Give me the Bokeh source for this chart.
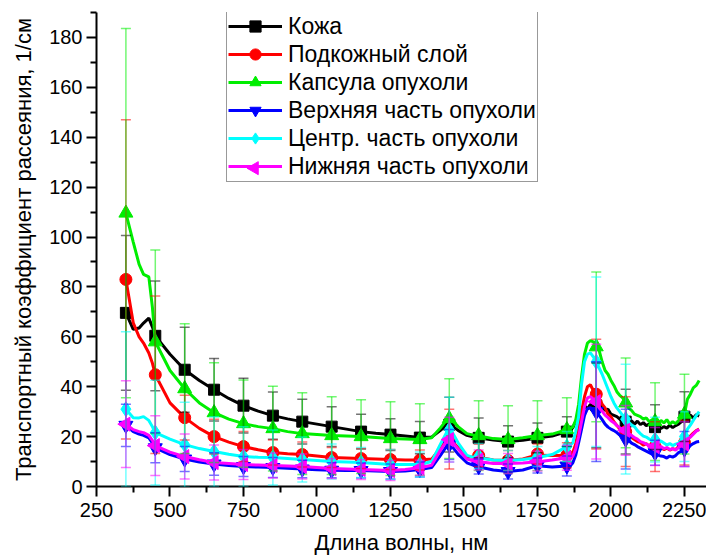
import math
from bokeh.plotting import figure
from bokeh.models import (ColumnDataSource, Whisker, TeeHead, Legend, LegendItem,
                          FixedTicker, Range1d)
from bokeh.embed import file_html
from bokeh.resources import INLINE

# ---- data -------------------------------------------------------------
labels = ["Кожа", "Подкожный слой", "Капсула опухоли",
          "Верхняя часть опухоли", "Центр. часть опухоли", "Нижняя часть опухоли"]

# wavelength grid of the measured spectra, нм
wl_main = [350, 375, 395, 410, 428, 440, 450, 500, 550, 600, 650, 700, 750, 800,
           850, 900, 950, 1000, 1050, 1100, 1150, 1200, 1250, 1300, 1350, 1390,
           1420, 1440, 1450, 1460, 1480, 1510, 1540, 1550, 1560, 1600, 1650, 1700,
           1740, 1750, 1760, 1800, 1850]
wl_tail = [1860, 1870, 1880, 1890, 1900, 1910, 1920, 1930, 1940, 1950, 1960, 1970,
           1980, 1990, 2000, 2010, 2020, 2030, 2040, 2050, 2060, 2070, 2080, 2090,
           2100, 2110, 2120, 2130, 2140, 2150, 2160, 2170, 2180, 2190, 2200, 2210,
           2220, 2230, 2240, 2250, 2260, 2270, 2280, 2290, 2300]

skin = [69.6, 63, 63.5, 65.5, 67.5, 64, 60.4, 53, 46.8, 42.5, 38.8, 35.3, 32.4, 30.2,
        28.4, 27.1, 26, 25, 24, 23, 22, 21.3, 20.8, 20.2, 19.6, 19.8,
        22.5, 24.5, 24.8, 24.3, 22.5, 20.5, 19.6, 19.5, 19.3, 18.6, 18, 18.5,
        19.2, 19.5, 19.6, 20.2, 22,
        22.5, 23.5, 26, 29, 31, 32.5, 31, 33, 31, 32.5, 31.5, 32.5,
        30.5, 31, 29, 28.5, 28, 27, 26.2, 26, 25.2, 26.4, 25, 26.2,
        24.8, 25.6, 24.4, 25, 23.6, 23.8, 24.6, 23.2, 24, 23.4, 24.6, 23.6,
        24.4, 25, 26, 28, 27.5, 28.6, 27.4, 28.8, 28.2]
subcut = [83, 65.6, 60, 57.5, 53.5, 49.5, 44.8, 33.5, 27.6, 23.3, 20, 17.8, 16, 14.7,
          13.6, 13.1, 12.8, 12.2, 11.6, 11.4, 11.2, 11, 10.8, 10.6, 10.6, 11,
          15.5, 18.5, 19, 18.3, 15.5, 12, 11.6, 12.4, 11.5, 10.6, 10.4, 11,
          12.3, 13, 12.5, 12.4, 12.5,
          12.8, 13.5, 17, 22.8, 30, 36, 40, 40.8, 38.5, 37, 35.5, 33,
          31.5, 29, 28, 26, 24.5, 23, 22.2, 22, 20.4, 19.6, 18.8, 18,
          17.6, 16.6, 17.2, 16.2, 16.8, 16, 15.2, 15.8, 14.8, 15.4, 14.6, 15.2,
          14.8, 16, 16.8, 17.6, 19, 20.2, 21.4, 22.4, 23]
capsule = [109.6, 98, 89, 85, 84, 72, 58, 46.5, 39.2, 33.5, 29.6, 27, 25.2, 24,
           23.2, 22, 21.2, 20.8, 20.4, 20.2, 20, 19.6, 19.2, 19, 18.8, 19.5,
           23.5, 26.5, 27.2, 26.6, 24, 21.2, 20.4, 20.4, 20.1, 19.2, 18.8, 19.5,
           20.2, 20.4, 20.5, 21, 22.8,
           23.2, 23.8, 26.5, 33, 44, 53, 57.5, 58.5, 58, 56, 54.5, 50,
           46.5, 45, 42.5, 40.5, 38, 36.5, 35.5, 33.5, 31.5, 30.5, 29, 28.5,
           28, 27, 27.5, 26, 26.8, 26, 25, 26.5, 25.5, 26.8, 25, 26,
           25.2, 26.4, 27.5, 29, 35, 37, 39.5, 40.5, 42.5]
upper = [24.5, 22, 21, 20.5, 19.5, 17.5, 15.5, 12.8, 11, 9.8, 9, 8.4, 8, 7.8,
         7.6, 7.3, 7, 6.7, 6.5, 6.4, 6.4, 6.2, 6, 6.2, 6.8, 7.6,
         12.5, 16, 16.8, 16, 13, 9.5, 8.2, 8, 7.6, 6.6, 6, 6.6,
         8, 8.4, 8.2, 7.8, 8.2,
         8.4, 9.4, 12.5, 17.6, 23, 28.5, 31.2, 31.6, 30.8, 30, 28.4, 26.8,
         25, 23.8, 23, 22.4, 21.6, 20.6, 19.8, 19, 18.6, 17.4, 16.8, 16,
         15.4, 14.8, 14.2, 13.6, 13, 13.5, 12.6, 12.2, 12, 11.4, 12.2, 11.8,
         12.4, 13.6, 14.2, 15, 15.6, 16.4, 17.2, 17.8, 18]
center = [31, 27.6, 27.5, 28, 26.5, 24, 21.6, 19, 16.8, 15.2, 14, 12.9, 12, 11.7,
          11.6, 11.2, 10.8, 10.4, 10, 9.8, 9.6, 9.2, 8.8, 8.8, 8.8, 10,
          17, 21.5, 22.8, 21.8, 17.5, 12.5, 11.4, 12.2, 11.3, 10.6, 10.4, 10.8,
          11.4, 12, 11.8, 12.8, 16,
          16.5, 17.5, 22, 28, 41, 50, 53, 53.6, 52, 50, 47.5, 45,
          42, 39, 36, 33.5, 31.5, 30, 28.5, 27, 25.8, 24.6, 24, 22.4,
          21.2, 20.2, 19.8, 19, 18.2, 18.8, 17.6, 18.2, 17.4, 16.6, 17.2, 16.4,
          17, 17.4, 19, 20, 23, 24.6, 26.5, 28.4, 30]
lower = [25, 22.8, 22, 21.6, 20.5, 18.5, 16.4, 13.8, 12, 10.7, 9.6, 9.2, 8.8, 8.6,
         8.4, 8.2, 8, 7.6, 7.2, 7, 6.8, 6.6, 6.4, 6.8, 7.5, 8.5,
         14.5, 18, 18.8, 18, 15, 11, 10, 10.6, 9.8, 9.2, 9.2, 9.4,
         9.8, 10.2, 10, 10.6, 11.5,
         11.8, 12, 15, 20, 26, 32, 35.5, 36, 35, 34, 31.5, 30.2,
         28.6, 27.6, 26.4, 25.6, 24.4, 23.6, 22.8, 22.5, 21.2, 20.4, 19.6, 19,
         18, 17.6, 17, 16.4, 16.8, 16, 15.4, 16, 15.2, 15.6, 14.8, 15.2,
         14.6, 15.6, 16.4, 17, 18.8, 19.8, 21, 22.2, 22.8]

# wavelengths carrying a marker and an error bar
wl_marks = [350, 450, 550, 650, 750, 850, 950, 1050, 1150, 1250, 1350, 1450,
            1550, 1650, 1750, 1850, 1950, 2050, 2150, 2250]
err_skin = [31, 22, 17, 12.5, 11, 9.5, 9, 8, 7, 6.4, 6.5, 11, 8, 6.4, 6, 6, 17, 13, 9, 10]
err_subcut = [64, 31.6, 9, 7, 6, 5, 5, 4, 4, 4, 4, 12, 4.5, 4, 4, 5, 22, 14, 10, 9]
err_capsule = [74, 36.8, 26, 20, 17.5, 17, 16.4, 15.6, 14.8, 14.8, 14.4, 16, 14, 13.6,
               14, 12.8, 30, 18, 15.6, 16]
err_upper = [8.5, 6, 5, 4.5, 4, 4, 3.5, 3, 3, 3, 3, 6, 3, 3, 3, 4, 20, 12, 5, 7]
err_center = [31, 21, 17, 14, 12, 11, 9, 7, 6, 6, 5, 13, 5, 4, 4, 6, 34, 22, 9, 10]
err_lower = [17.4, 12, 9, 7, 6, 5, 5, 4, 4, 4, 3, 9, 4, 4, 4, 5, 23, 10, 7.6, 9]

x_ticks = [250, 500, 750, 1000, 1250, 1500, 1750, 2000, 2250]
y_ticks = [0, 20, 40, 60, 80, 100, 120, 140, 160, 180]

# ---- styling ----------------------------------------------------------
colors = ["#000000", "#ff0000", "#00ee00", "#0000ff", "#00ffff", "#ff00ff"]
markers = ["square", "circle", "triangle", "inverted_triangle", "diamond", "triangle"]
msizes = [11, 12, 14, 14, 15, 14]
angles = [0, 0, 0, 0, 0, math.pi / 2]       # last one: triangle turned to point left
series = [skin, subcut, capsule, upper, center, lower]
errors = [err_skin, err_subcut, err_capsule, err_upper, err_center, err_lower]

FONT = "Liberation Sans"
W, H = 706, 557
BL, BR, BT, BB = 96, 0, 12, 70          # borders around the frame, px
X0, X1, Y0, Y1 = 250, 2325, 0, 190

p = figure(width=W, height=H, output_backend="svg", toolbar_location=None,
           x_range=Range1d(X0, X1), y_range=Range1d(Y0, Y1),
           min_border_left=BL, min_border_right=BR, min_border_top=BT,
           min_border_bottom=BB)
p.outline_line_color = None
p.grid.visible = False
p.background_fill_color = "white"
p.border_fill_color = "white"

wl_all = wl_main + wl_tail
items = []
for vals, err, col, mk, ms, ang, lab in zip(series, errors, colors, markers,
                                            msizes, angles, labels):
    lookup = dict(zip(wl_all, vals))
    mvals = [lookup[w] for w in wl_marks]
    line_src = ColumnDataSource(dict(x=wl_all, y=vals))
    mark_src = ColumnDataSource(dict(x=wl_marks, y=mvals,
                                     lo=[v - e for v, e in zip(mvals, err)],
                                     hi=[v + e for v, e in zip(mvals, err)]))
    lr = p.line("x", "y", source=line_src, line_color=col, line_width=3)
    sr = p.scatter("x", "y", source=mark_src, marker=mk, size=ms, angle=ang,
                   fill_color=col, line_color=col)
    wh = Whisker(source=mark_src, base="x", upper="hi", lower="lo",
                 dimension="height", line_color=col, line_alpha=0.55, line_width=1.5,
                 upper_head=TeeHead(size=10, line_color=col, line_alpha=0.55, line_width=1.5),
                 lower_head=TeeHead(size=10, line_color=col, line_alpha=0.55, line_width=1.5),
                 level="annotation")
    p.add_layout(wh)
    # legend glyphs ignore the marker angle, so the turned triangle gets its own symbol
    items.append(LegendItem(label=lab, renderers=[lr] if ang else [lr, sr]))

LEG_X, LEG_Y = 130, 304                  # legend bottom-left, relative to frame
ROW, PAD, GLYPH_W = 28, 1, 54
legend = Legend(items=items, location=(LEG_X, LEG_Y), orientation="vertical",
                label_text_font=FONT, label_text_font_size="23px",
                label_text_color="black", label_height=ROW, glyph_height=ROW,
                glyph_width=GLYPH_W, label_standoff=6, spacing=0, padding=PAD, margin=0,
                border_line_color="#333333", border_line_width=1,
                background_fill_alpha=0.0)
p.add_layout(legend, "center")

# left-pointing triangle for the last legend row, placed from the frame geometry
frame_w, frame_h = W - BL - BR, H - BT - BB
def to_data(sx, sy):
    return (X0 + (sx - BL) * (X1 - X0) / frame_w,
            Y0 + (BT + frame_h - sy) * (Y1 - Y0) / frame_h)

sym_x, sym_y = to_data(BL + LEG_X + PAD + GLYPH_W / 2,
                       BT + frame_h - LEG_Y - PAD - ROW / 2)
p.scatter([sym_x], [sym_y], marker="triangle", angle=math.pi / 2, size=13,
          fill_color=colors[5], line_color=colors[5])

# axes
p.xaxis.ticker = FixedTicker(ticks=x_ticks,
                             minor_ticks=[t + 125 for t in x_ticks[:-1]] + [2375])
p.yaxis.ticker = FixedTicker(ticks=y_ticks,
                             minor_ticks=[t + 10 for t in y_ticks])
for ax in (p.xaxis, p.yaxis):
    ax.axis_line_width = 2
    ax.axis_line_color = "black"
    ax.major_tick_line_width = 2
    ax.minor_tick_line_width = 2
    ax.major_tick_out = 10
    ax.major_tick_in = 0
    ax.minor_tick_out = 6
    ax.minor_tick_in = 0
    ax.major_label_text_font = FONT
    ax.major_label_text_font_size = "20px"
    ax.major_label_text_color = "black"
    ax.axis_label_text_font = FONT
    ax.axis_label_text_font_size = "22px"
    ax.axis_label_text_font_style = "normal"
    ax.axis_label_text_color = "black"

p.xaxis.major_label_standoff = 6
p.yaxis.major_label_standoff = 4
p.xaxis.axis_label = "Длина волны, нм"
p.yaxis.axis_label = "Транспортный коэффициент рассеяния, 1/см"
p.xaxis.axis_label_standoff = 10
p.yaxis.axis_label_standoff = 10

open("out.html", "w").write(file_html(p, INLINE))
